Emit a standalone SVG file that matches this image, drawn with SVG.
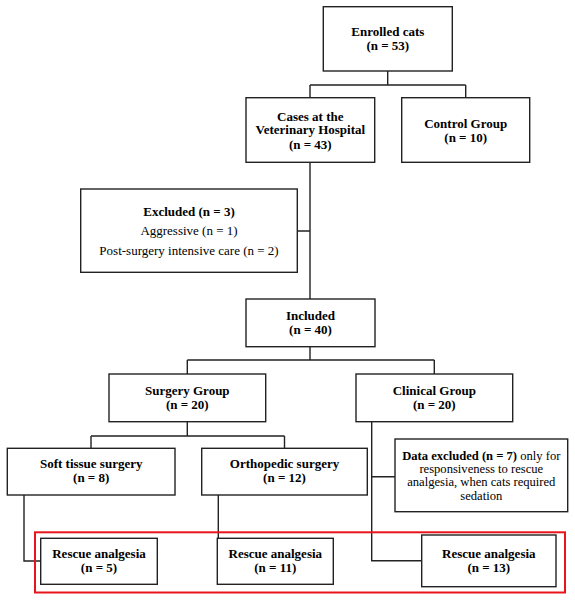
<svg xmlns="http://www.w3.org/2000/svg" width="575" height="600" viewBox="0 0 575 600">
<style>
.box{fill:#fff;stroke:#222;stroke-width:1.4}
.ln{fill:none;stroke:#222;stroke-width:1.4}
text{font-family:"Liberation Serif","Times New Roman",serif;font-size:13px;fill:#000;text-anchor:middle}
.b{font-weight:bold}
.sm{font-size:12.6px}
.hl{fill:none;stroke:#e8141b;stroke-width:2}
</style>
<rect width="575" height="600" fill="#fff"/>
<g id="connectors">
<path class="ln" d="M387.7 71V85M310 85H465.7M310 85V97.7M465.7 85V97.7"/>
<path class="ln" d="M310 162.3V299M297.3 231H310"/>
<path class="ln" d="M310 346.7V360M187.3 360H434.3M187.3 360V374M434.3 360V374"/>
<path class="ln" d="M187.3 421.7V436M91 436H284.5M91 436V448.3M284.5 436V448.3"/>
<path class="ln" d="M371.7 421.7V560.7H421.7M371.7 476.7H395"/>
<path class="ln" d="M24 495V561H40.7"/>
<path class="ln" d="M218.3 495V538.3"/>
</g>
<g id="enrolled"><rect class="box" x="323.3" y="6.7" width="129" height="64.3"/><text class="b" x="387.8" y="36">Enrolled cats</text><text class="b" x="387.8" y="50">(n = 53)</text></g>
<g id="cases"><rect class="box" x="246" y="97.7" width="128.7" height="64.6"/><text class="b" x="310.3" y="120.5">Cases at the</text><text class="b" x="310.3" y="134.3">Veterinary Hospital</text><text class="b" x="310.3" y="148.5">(n = 43)</text></g>
<g id="control"><rect class="box" x="401.7" y="97.7" width="128" height="64.6"/><text class="b" x="465.7" y="127.7">Control Group</text><text class="b" x="465.7" y="141.7">(n = 10)</text></g>
<g id="excluded"><rect class="box" x="80.7" y="189" width="216.6" height="83.3"/><text class="b" x="189" y="215.7">Excluded (n = 3)</text><text x="189" y="235">Aggressive (n = 1)</text><text x="189" y="255">Post-surgery intensive care (n = 2)</text></g>
<g id="included"><rect class="box" x="246" y="299" width="129" height="47.7"/><text class="b" x="310.5" y="320">Included</text><text class="b" x="310.5" y="334.3">(n = 40)</text></g>
<g id="surgery"><rect class="box" x="109" y="374" width="156.7" height="47.7"/><text class="b" x="187.3" y="395">Surgery Group</text><text class="b" x="187.3" y="409">(n = 20)</text></g>
<g id="clinical"><rect class="box" x="356" y="374" width="156.7" height="47.7"/><text class="b" x="434.3" y="395">Clinical Group</text><text class="b" x="434.3" y="409">(n = 20)</text></g>
<g id="soft"><rect class="box" x="7.3" y="448.3" width="167.7" height="46.7"/><text class="b" x="91.2" y="468.3">Soft tissue surgery</text><text class="b" x="91.2" y="482.3">(n = 8)</text></g>
<g id="ortho"><rect class="box" x="201.7" y="448.3" width="165.6" height="46.7"/><text class="b" x="284.5" y="468.3">Orthopedic surgery</text><text class="b" x="284.5" y="482.3">(n = 12)</text></g>
<g id="dataexcl"><rect class="box" x="395" y="439" width="172.7" height="72.7"/><text class="sm" x="481.3" y="460"><tspan class="b">Data excluded (n = 7)</tspan> only for</text><text class="sm" x="481.3" y="473.3">responsiveness to rescue</text><text class="sm" x="481.3" y="486.4">analgesia, when cats required</text><text class="sm" x="481.3" y="499.5">sedation</text></g>
<rect id="highlight" class="hl" x="35" y="532.3" width="530" height="60.2"/>
<g id="rescue5"><rect class="box" x="40.7" y="538.3" width="116.6" height="46"/><text class="b" x="99" y="557.7">Rescue analgesia</text><text class="b" x="99" y="572.3">(n = 5)</text></g>
<g id="rescue11"><rect class="box" x="217.3" y="538.3" width="116" height="46"/><text class="b" x="275.3" y="557.7">Rescue analgesia</text><text class="b" x="275.3" y="572.3">(n = 11)</text></g>
<g id="rescue13"><rect class="box" x="421.7" y="535" width="134.3" height="51.7"/><text class="b" x="488.8" y="557.7">Rescue analgesia</text><text class="b" x="488.8" y="572.3">(n = 13)</text></g>
</svg>
